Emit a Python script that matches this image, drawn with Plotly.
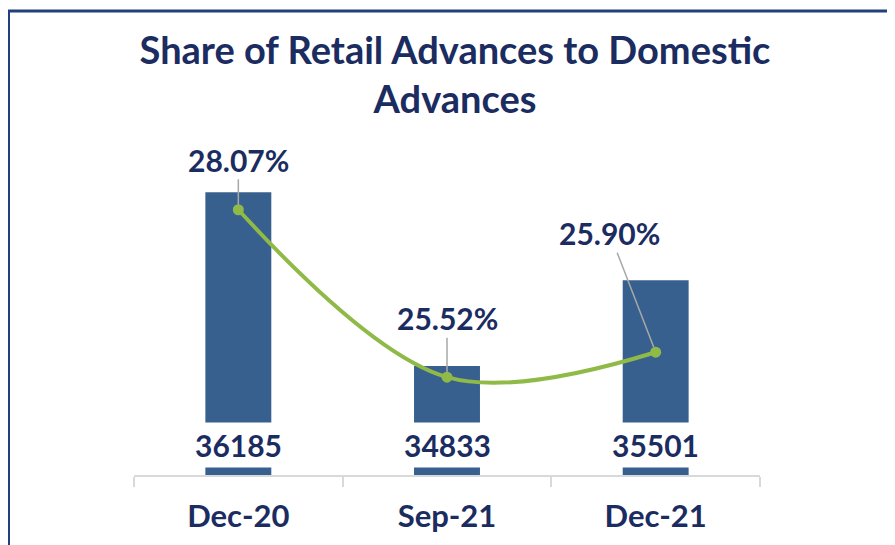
import plotly.graph_objects as go

categories = ["Dec-20", "Sep-21", "Dec-21"]
retail_advances = [36185, 34833, 35501]
retail_share_pct = [28.07, 25.52, 25.90]
title_text = "Share of Retail Advances to Domestic<br>Advances"

NAVY = "#1B2C61"
BAR = "#37608F"
GREEN = "#8FBA48"
FONT = "Lato"

# page has an 8px body margin; figure is sized so the plot lands in place
OFF = 8
W, H = 895 - OFF, 545 - OFF
L, R, T, B = 134 - OFF, 135, 150 - OFF, 70

fig = go.Figure()
fig.add_trace(go.Bar(x=categories, y=retail_advances, marker_color=BAR,
                     marker_line_width=0, yaxis="y", hoverinfo="skip"))
fig.add_trace(go.Scatter(x=categories, y=retail_share_pct, yaxis="y2",
                         mode="lines+markers",
                         line=dict(color=GREEN, width=4, shape="spline", smoothing=1),
                         marker=dict(color=GREEN, size=11), hoverinfo="skip"))

# value labels at bar base (white boxes)
for c, v in zip(categories, retail_advances):
    fig.add_annotation(x=c, y=30 / 325, xref="x", yref="paper", yanchor="middle",
                       text=f"{v}", showarrow=False, bgcolor="white", borderpad=4,
                       font=dict(family=FONT, size=30, color=NAVY, weight="bold"))

# percentage labels with leader lines
offsets = [(0, -50), (0, -59), (-46, -119)]
for c, p, (ax, ay) in zip(categories, retail_share_pct, offsets):
    fig.add_annotation(x=c, y=p, xref="x", yref="y2", text=f"{p:.2f}%",
                       showarrow=True, arrowhead=0, arrowwidth=1.5,
                       arrowcolor="#A8A8A8", ax=ax, ay=ay, standoff=5,
                       font=dict(family=FONT, size=30, color=NAVY, weight="bold"))

# outer border
pw, ph = W - L - R, H - T - B
fig.add_shape(type="rect", xref="paper", yref="paper",
              x0=(0.5 - L) / pw, x1=(W + 20 - L) / pw,
              y0=(H - B - 3) / ph, y1=(H - B - (H + 20)) / ph,
              line=dict(color="#223F7F", width=3), fillcolor="rgba(0,0,0,0)")

fig.update_layout(
    width=W, height=H,
    margin=dict(l=L, r=R, t=T, b=B),
    paper_bgcolor="white", plot_bgcolor="white",
    showlegend=False, bargap=0.684,
    title=dict(text=title_text, x=(455 - OFF) / W, xref="container", xanchor="center",
               y=1 - (64 - OFF) / H, yanchor="middle",
               font=dict(family=FONT, size=38, color=NAVY, weight="bold")),
    xaxis=dict(showline=True, linecolor="#D9D9D9", linewidth=1.5,
               ticks="outside", tickson="boundaries", ticklen=10,
               tickcolor="#D9D9D9", tickwidth=1.5, showgrid=False,
               tickfont=dict(family=FONT, size=31, color=NAVY, weight="bold"),
               ticklabelstandoff=13),
    yaxis=dict(range=[33985, 36514], visible=False, showgrid=False),
    yaxis2=dict(range=[24.03, 28.98], visible=False, showgrid=False,
                overlaying="y", side="right"),
)

fig.write_html("out.html")
